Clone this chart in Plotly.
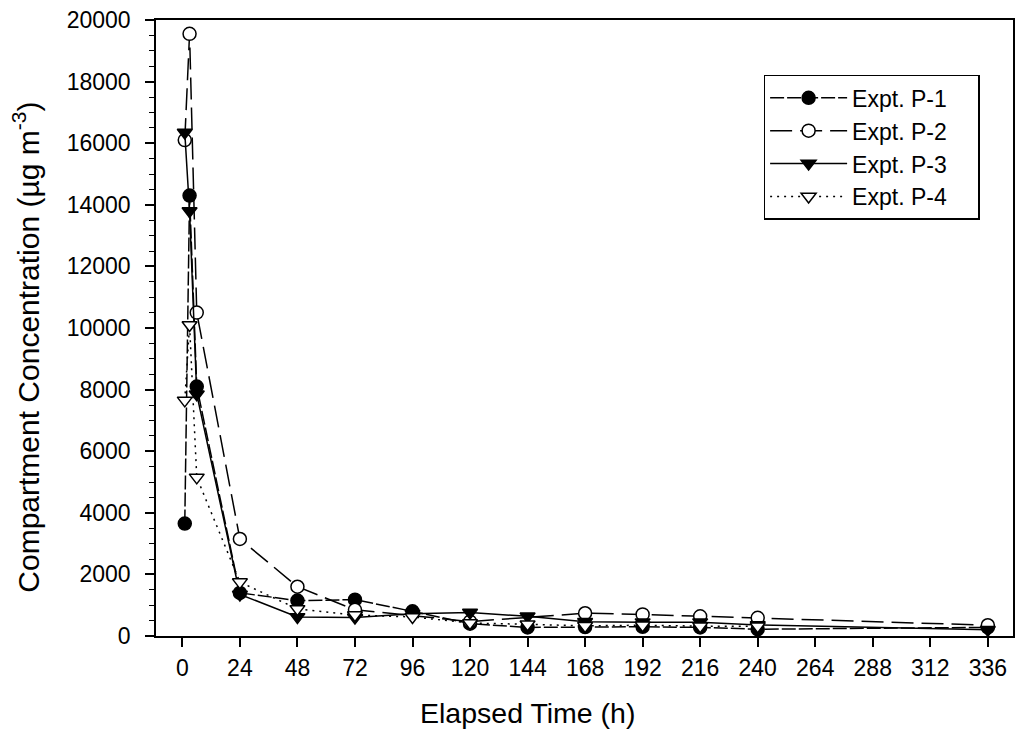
import plotly.graph_objects as go

# Sampling times (h) for each experiment
t_p1 = [1, 3, 6, 24, 48, 72, 96, 120, 144, 168, 192, 216, 240, 336]
t_p2 = [1, 3, 6, 24, 48, 72, 120, 168, 192, 216, 240, 336]
t_p3 = [1, 3, 6, 24, 48, 72, 96, 120, 144, 168, 192, 216, 240, 336]
t_p4 = [1, 3, 6, 24, 48, 72, 96, 120, 144, 168, 192, 216, 240]

# Compartment concentrations (ug m-3)
c_p1 = [3650, 14300, 8100, 1400, 1150, 1180, 800, 400, 280, 290, 300, 280, 220, 280]
c_p2 = [16100, 19550, 10500, 3150, 1600, 850, 470, 740, 700, 640, 590, 350]
c_p3 = [16350, 13800, 7850, 1350, 620, 600, 720, 760, 640, 460, 450, 450, 360, 200]
c_p4 = [7650, 10100, 5150, 1750, 880, 680, 620, 420, 380, 330, 350, 320, 320]

x_ticks = list(range(0, 337, 24))
y_ticks = list(range(0, 20001, 2000))

FONT = "Liberation Sans, Arial, sans-serif"
PAD = "\u00a0" * 4  # right-hand breathing room inside the legend box

fig = go.Figure()

series = [
    ("Expt. P-1", t_p1, c_p1, "circle", "black", "14px,3px", 13),
    ("Expt. P-2", t_p2, c_p2, "circle", "white", "22px,8px", 13),
    ("Expt. P-3", t_p3, c_p3, "triangle-down", "black", "solid", 13),
    ("Expt. P-4", t_p4, c_p4, "triangle-down", "white", "2px,5px", 13),
]

for name, t, c, sym, fill, dash, size in series:
    fig.add_trace(go.Scatter(
        x=t, y=c, name=name + PAD, mode="lines+markers",
        line=dict(color="black", width=1.5, dash=dash),
        marker=dict(symbol=sym, size=size, color=fill,
                    line=dict(color="black", width=1.5)),
    ))

axis_common = dict(
    showline=True, linecolor="black", linewidth=1.5, mirror=True,
    ticks="outside", tickcolor="black", tickwidth=1.5, ticklen=9,
    showgrid=False, zeroline=False,
    tickfont=dict(family=FONT, size=23, color="black"),
)

fig.update_xaxes(
    range=[-11, 346.5], tickvals=x_ticks, ticktext=[str(v) for v in x_ticks],
    ticklabelstandoff=2,
    **axis_common,
)
fig.update_yaxes(
    range=[0, 20000], tickvals=y_ticks, ticktext=[str(v) for v in y_ticks],
    minor=dict(dtick=500, ticks="outside", ticklen=5, tickcolor="black", tickwidth=1.2),
    ticklabelstandoff=10,
    **axis_common,
)

# Axis titles
fig.add_annotation(
    text="Elapsed Time (h)", xref="paper", yref="paper",
    x=0.433, y=-0.125, xanchor="center", yanchor="middle", showarrow=False,
    font=dict(family=FONT, size=28.5, color="black"),
)
fig.add_annotation(
    text="Compartment Concentration (µg m<sup>-3</sup>)", xref="paper", yref="paper",
    x=-0.151, y=0.469, xanchor="center", yanchor="middle", showarrow=False,
    textangle=-90, font=dict(family=FONT, size=30, color="black"),
)

fig.update_layout(
    width=1018, height=745,
    margin=dict(l=156, r=3, t=20, b=109),
    paper_bgcolor="white", plot_bgcolor="white",
    font=dict(family=FONT, color="black"),
    showlegend=True,
    legend=dict(
        x=0.709, y=0.911, xanchor="left", yanchor="top",
        bordercolor="black", borderwidth=1.5, bgcolor="white",
        font=dict(family=FONT, size=23, color="black"),
        itemwidth=77, tracegroupgap=0,
    ),
)

fig.write_html("out.html")
